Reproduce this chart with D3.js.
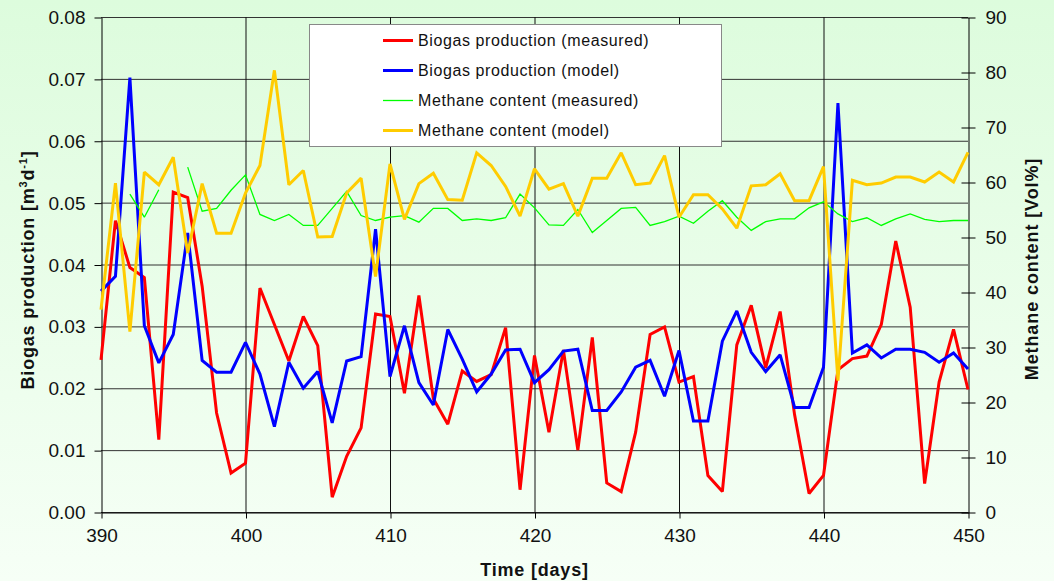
<!DOCTYPE html>
<html><head><meta charset="utf-8">
<script src="https://cdn.jsdelivr.net/npm/d3@7"></script>
<style>
html,body{margin:0;padding:0;background:#fff;}
svg{display:block;font-family:"Liberation Sans",Arial,sans-serif;}
</style></head>
<body>
<svg id="chart" width="1054" height="581"></svg>
<script>
const days = [390,391,392,393,394,395,396,397,398,399,400,401,402,403,404,405,406,407,408,409,410,411,412,413,414,415,416,417,418,419,420,421,422,423,424,425,426,427,428,429,430,431,432,433,434,435,436,437,438,439,440,441,442,443,444,445,446,447,448,449,450];
const biogasMeasured = [0.0246,0.0471,0.0395,0.0379,0.0117,0.0517,0.0508,0.0365,0.0160,0.0063,0.0079,0.0362,0.0303,0.0244,0.0316,0.0269,0.0024,0.0090,0.0136,0.0320,0.0316,0.0192,0.0350,0.0183,0.0142,0.0228,0.0211,0.0222,0.0298,0.0036,0.0253,0.0129,0.0262,0.0100,0.0282,0.0047,0.0033,0.0129,0.0287,0.0299,0.0210,0.0219,0.0059,0.0033,0.0270,0.0334,0.0233,0.0324,0.0157,0.0030,0.0059,0.0230,0.0248,0.0252,0.0303,0.0438,0.0331,0.0046,0.0210,0.0295,0.0198];
const biogasModel = [0.0357,0.0381,0.0702,0.0301,0.0241,0.0287,0.0451,0.0245,0.0226,0.0226,0.0274,0.0223,0.0138,0.0242,0.0200,0.0227,0.0144,0.0244,0.0251,0.0457,0.0219,0.0301,0.0209,0.0173,0.0295,0.0247,0.0194,0.0223,0.0262,0.0263,0.0209,0.0230,0.0260,0.0263,0.0164,0.0164,0.0194,0.0234,0.0245,0.0187,0.0261,0.0147,0.0147,0.0276,0.0325,0.0258,0.0227,0.0254,0.0169,0.0169,0.0234,0.0661,0.0257,0.0270,0.0249,0.0263,0.0263,0.0258,0.0242,0.0257,0.0231];
const methaneMeasured = [null,null,57.8,53.6,58.6,null,62.7,54.7,55.2,58.5,61.3,54.1,53.0,54.1,52.1,52.1,55.2,58.3,53.9,53.0,53.6,53.9,52.7,55.2,55.2,53.0,53.3,53.0,53.5,57.8,55.3,52.2,52.1,55.0,50.8,53.0,55.2,55.4,52.1,52.8,53.8,52.5,54.7,56.6,53.6,51.2,52.8,53.3,53.3,55.3,56.4,54.2,52.8,53.5,52.1,53.3,54.2,53.2,52.8,53.0,53.0];
const methaneModel = [36.8,59.8,32.8,61.8,59.5,64.5,47.1,59.7,50.7,50.7,58.0,63.0,80.3,59.5,62.1,50.0,50.1,58.0,60.7,42.8,63.3,53.2,59.7,61.6,56.8,56.7,65.3,63.0,59.2,53.8,62.4,58.7,59.7,53.8,60.7,60.7,65.3,59.5,59.8,64.8,53.6,57.7,57.7,55.1,51.6,59.3,59.5,61.5,56.6,56.6,62.8,23.9,60.3,59.5,59.8,60.9,60.9,60.0,61.8,60.0,65.4];

const xTicks = [390,400,410,420,430,440,450];
const leftTicks = [0,0.01,0.02,0.03,0.04,0.05,0.06,0.07,0.08];
const rightTicks = [0,10,20,30,40,50,60,70,80,90];
const seriesNames = ["Biogas production (measured)","Biogas production (model)","Methane content (measured)","Methane content (model)"];
const seriesColors = ["#ff0000","#0000ff","#00ff00","#ffcc00"];
const seriesWidths = [3,3,1.3,3];
const xTitle = "Time [days]";
const rightTitle = "Methane content [Vol%]";

const svg = d3.select("#chart");
const W = 1054, H = 581;
const L = 101, R = 968, T = 17, B = 512;

const defs = svg.append("defs");
const grad = defs.append("linearGradient").attr("id","bg").attr("x1",0).attr("y1",0).attr("x2",0).attr("y2",1);
grad.append("stop").attr("offset","0%").attr("stop-color","#ddfcdd");
grad.append("stop").attr("offset","100%").attr("stop-color","#f6fff6");
svg.append("rect").attr("width",W).attr("height",H).attr("fill","url(#bg)");

const x = d3.scaleLinear().domain([390,450]).range([L,R]);
const yL = d3.scaleLinear().domain([0,0.08]).range([B,T]);
const yR = d3.scaleLinear().domain([0,90]).range([B,T]);

// gridlines
const grid = svg.append("g");
grid.selectAll("line.h").data(leftTicks).join("line")
  .attr("x1",L).attr("x2",R).attr("y1",d=>yL(d)+0.5).attr("y2",d=>yL(d)+0.5)
  .attr("stroke","#333").attr("stroke-width",1);
grid.selectAll("line.v").data(xTicks.slice(1,-1)).join("line")
  .attr("y1",T).attr("y2",B).attr("x1",d=>x(d)+0.5).attr("x2",d=>x(d)+0.5)
  .attr("stroke","#111").attr("stroke-width",1);

// axes
const fontTick = 19;
const gL = svg.append("g").attr("transform",`translate(${L+0.5},0.5)`)
  .call(d3.axisLeft(yL).tickValues(leftTicks).tickFormat(d3.format(".2f")).tickSizeInner(7).tickSizeOuter(0).tickPadding(9));
const gR = svg.append("g").attr("transform",`translate(${R+0.5},0.5)`)
  .call(d3.axisRight(yR).tickValues(rightTicks).tickFormat(d3.format("d")).tickSizeInner(7).tickSizeOuter(0).tickPadding(10));
gR.selectAll(".tick line").attr("x1",-7).attr("x2",7);
const gB = svg.append("g").attr("transform",`translate(0.5,${B+0.5})`)
  .call(d3.axisBottom(x).tickValues(xTicks).tickFormat(d3.format("d")).tickSizeInner(6).tickSizeOuter(0).tickPadding(6));
[gL,gR,gB].forEach(g=>{
  g.select(".domain").attr("stroke","#000").attr("stroke-width",1);
  g.selectAll(".tick line").attr("stroke","#000");
  g.selectAll(".tick text").attr("font-size",fontTick).attr("fill","#111")
   .attr("font-family","Liberation Sans, Arial, sans-serif");
});
gB.selectAll(".tick text").attr("dy","0.9em");

// series lines
const toPts = vals => days.map((d,i)=>({d, v: vals[i]}));
const lineL = d3.line().defined(p=>p.v!=null).x(p=>x(p.d)).y(p=>yL(p.v));
const lineR = d3.line().defined(p=>p.v!=null).x(p=>x(p.d)).y(p=>yR(p.v));
const plots = [
  {vals: biogasMeasured, gen: lineL},
  {vals: biogasModel, gen: lineL},
  {vals: methaneMeasured, gen: lineR},
  {vals: methaneModel, gen: lineR}
];
const gLines = svg.append("g");
plots.forEach((p,i)=>{
  gLines.append("path").attr("d", p.gen(toPts(p.vals)))
    .attr("fill","none").attr("stroke",seriesColors[i]).attr("stroke-width",seriesWidths[i])
    .attr("stroke-linejoin","miter").attr("stroke-miterlimit",2);
});

// legend
const lg = svg.append("g");
lg.append("rect").attr("x",309.5).attr("y",24.5).attr("width",412).attr("height",122)
  .attr("fill","#fff").attr("stroke","#888").attr("stroke-width",1);
seriesNames.forEach((n,i)=>{
  const cy = 40.5 + i*30;
  lg.append("line").attr("x1",383).attr("x2",413).attr("y1",cy).attr("y2",cy)
    .attr("stroke",seriesColors[i]).attr("stroke-width",seriesWidths[i]);
  lg.append("text").attr("x",418).attr("y",cy+5.8).attr("font-size",16)
    .attr("letter-spacing","0.6px").attr("fill","#111").text(n);
});

// axis titles
svg.append("text").attr("x",(L+R)/2).attr("y",576).attr("text-anchor","middle")
  .attr("font-size",18).attr("font-weight","bold").attr("letter-spacing","0.8px").attr("fill","#111").text(xTitle);

const lt = svg.append("text").attr("transform",`translate(34,270) rotate(-90)`)
  .attr("text-anchor","middle").attr("font-size",18).attr("font-weight","bold")
  .attr("letter-spacing","0.8px").attr("fill","#111");
lt.append("tspan").text("Biogas production [m");
lt.append("tspan").attr("font-size",11).attr("dy",-7).text("3");
lt.append("tspan").attr("dy",7).text("d");
lt.append("tspan").attr("font-size",11).attr("dy",-7).text("-1");
lt.append("tspan").attr("dy",7).text("]");

svg.append("text").attr("transform",`translate(1038,269) rotate(-90)`)
  .attr("text-anchor","middle").attr("font-size",18).attr("font-weight","bold")
  .attr("letter-spacing","0.9px").attr("fill","#111").text(rightTitle);
</script>
</body></html>
